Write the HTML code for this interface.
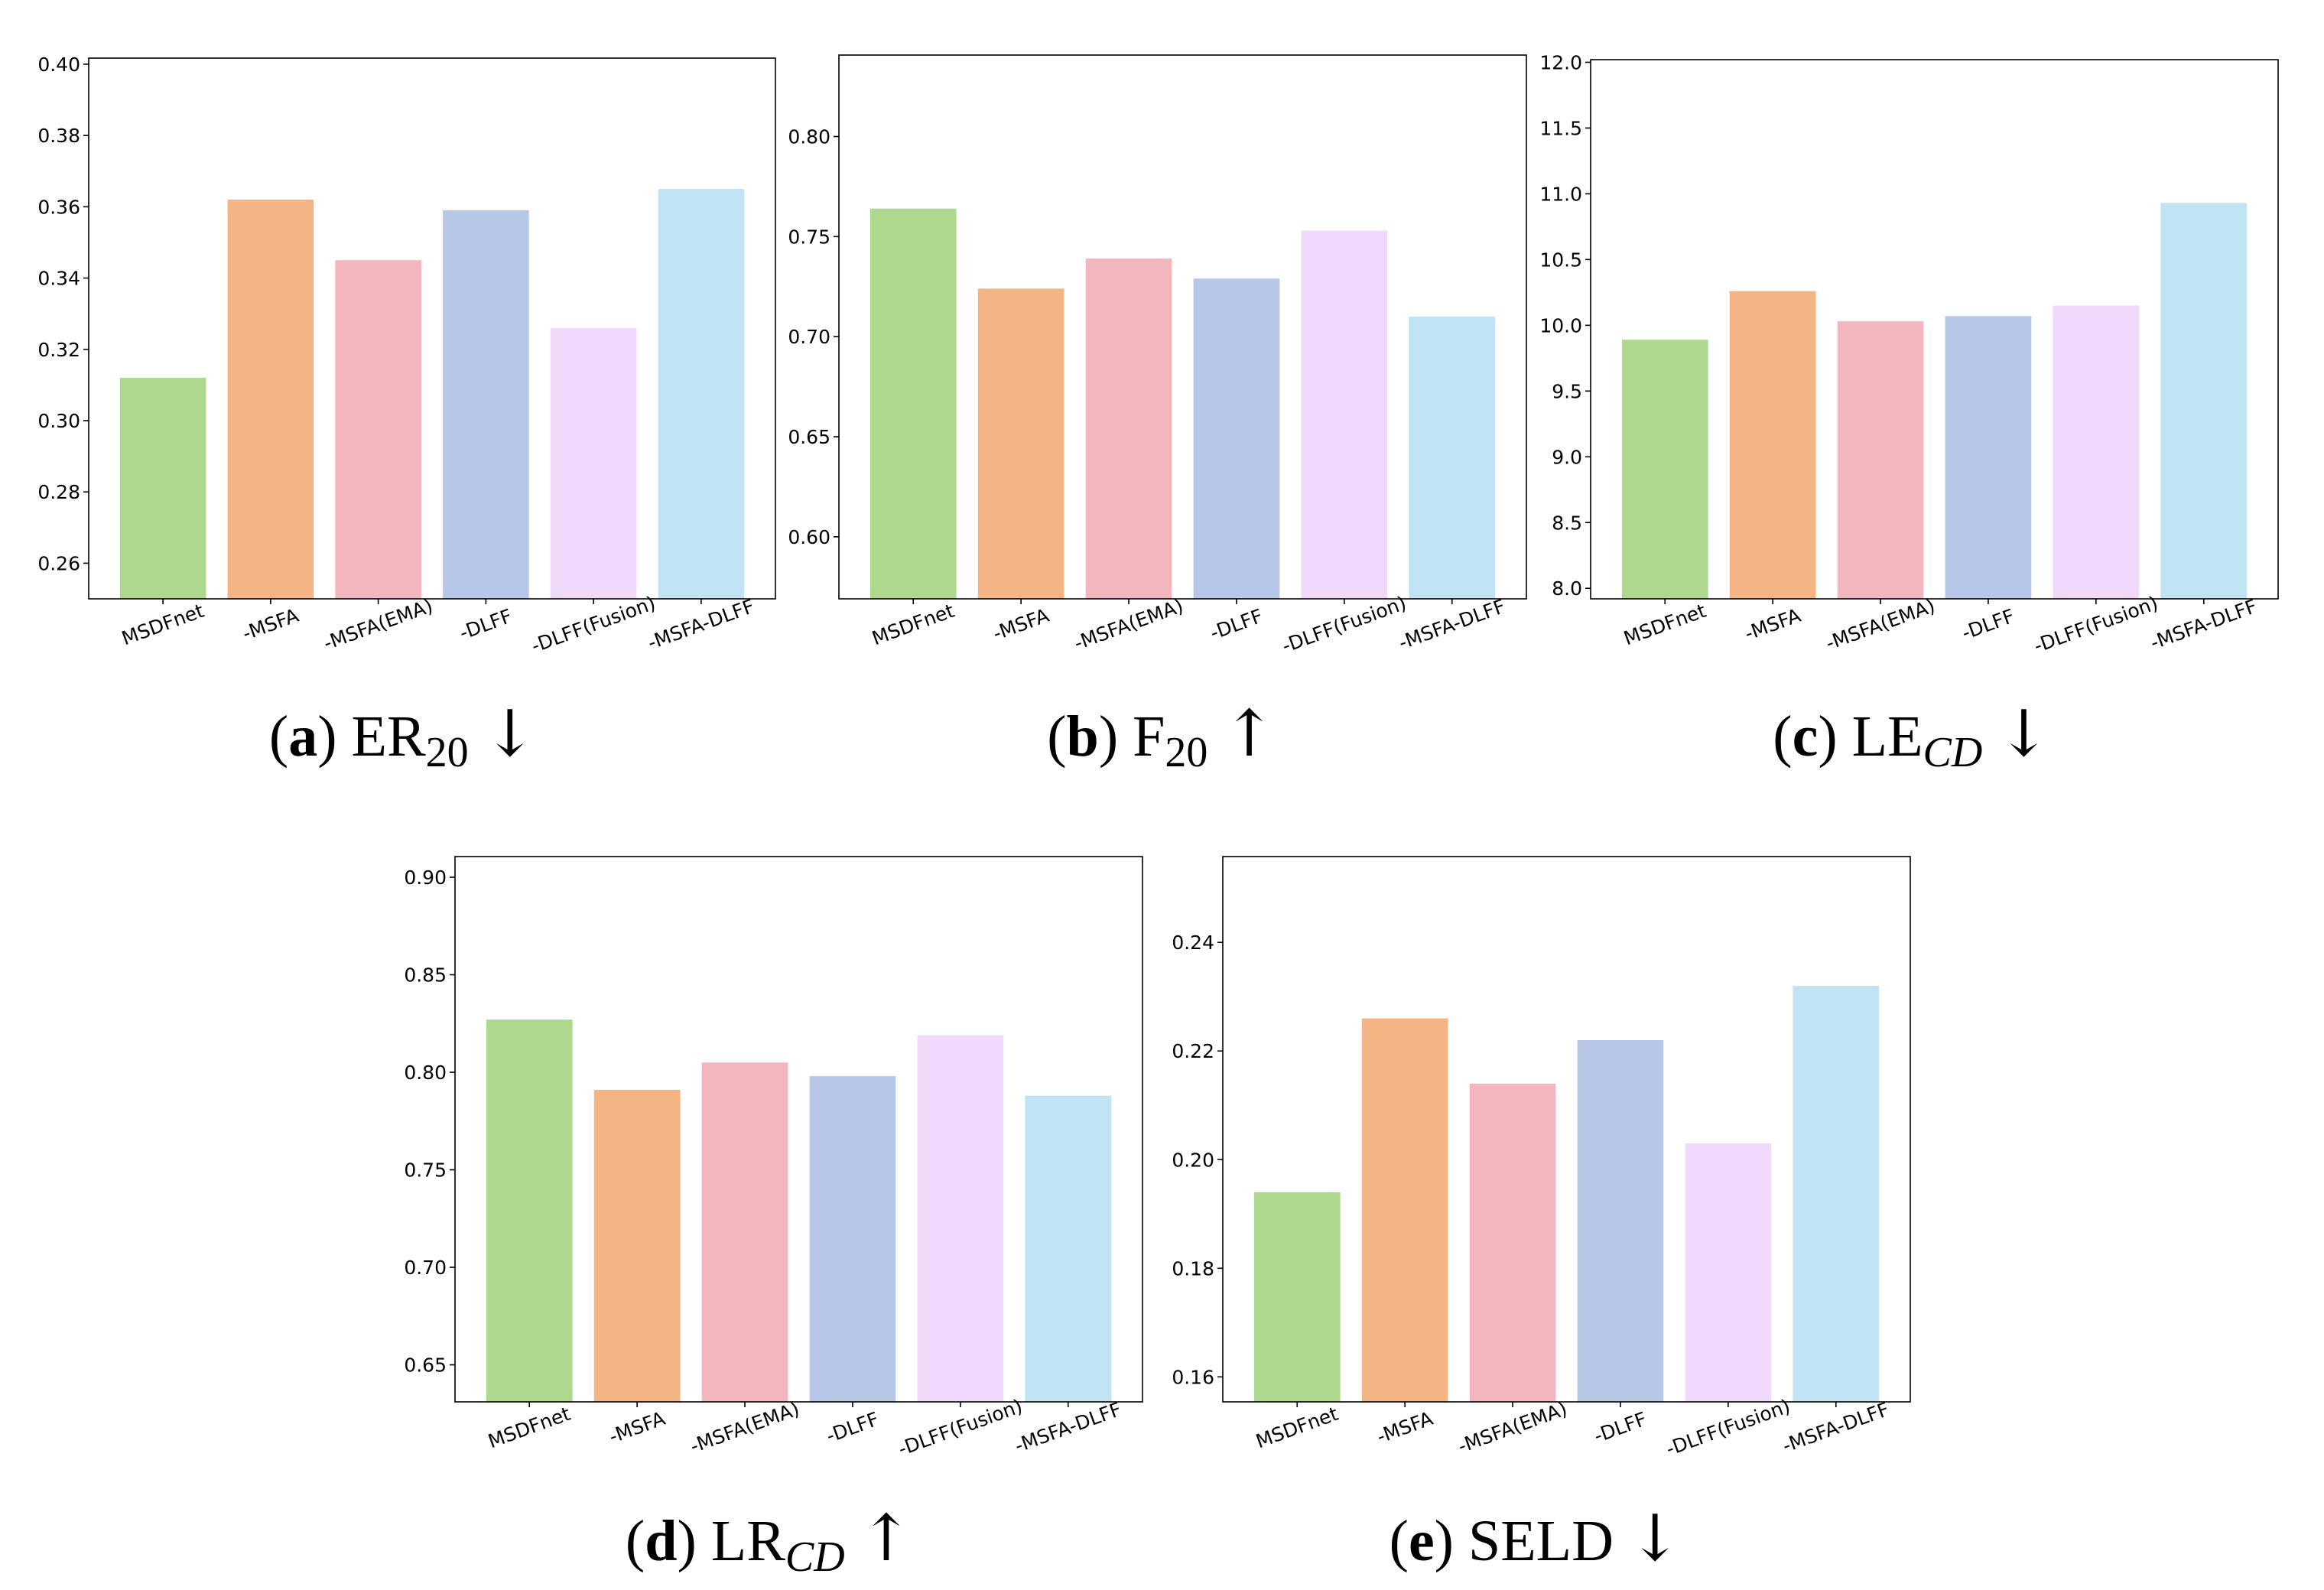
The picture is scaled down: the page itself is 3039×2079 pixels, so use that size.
<!DOCTYPE html>
<html><head><meta charset="utf-8"><style>
html,body{margin:0;padding:0;background:#fff}
svg{display:block}
.tk{font-family:"DejaVu Sans","Liberation Sans",sans-serif;font-size:25px;fill:#000}
.cap{font-family:"Liberation Serif","DejaVu Serif",serif;font-size:76px;fill:#000}
</style></head><body>
<svg id="fig" width="3039" height="2079" viewBox="0 0 3039 2079" xmlns="http://www.w3.org/2000/svg"></svg>
<script>
const categories = ["MSDFnet","-MSFA","-MSFA(EMA)","-DLFF","-DLFF(Fusion)","-MSFA-DLFF"];
const colors = ["#add88e","#f4b484","#f3b6bf","#b7c7e8","#f0d9fb","#c1e4f4"];
const valuesER = [0.312,0.362,0.345,0.359,0.326,0.365];
const valuesF = [0.764,0.724,0.739,0.729,0.753,0.710];
const valuesLE = [9.89,10.26,10.03,10.07,10.15,10.93];
const valuesLR = [0.827,0.791,0.805,0.798,0.819,0.788];
const valuesSELD = [0.194,0.226,0.214,0.222,0.203,0.232];
const ticksER = [0.26,0.28,0.30,0.32,0.34,0.36,0.38,0.40];
const ticksF = [0.60,0.65,0.70,0.75,0.80];
const ticksLE = [8.0,8.5,9.0,9.5,10.0,10.5,11.0,11.5,12.0];
const ticksLR = [0.65,0.70,0.75,0.80,0.85,0.90];
const ticksSELD = [0.16,0.18,0.20,0.22,0.24];

const NS="http://www.w3.org/2000/svg";
const svg=document.getElementById('fig');
function mk(tag,attrs,parent){const e=document.createElementNS(NS,tag);for(const k in attrs)e.setAttribute(k,attrs[k]);(parent||svg).appendChild(e);return e;}

const panels=[
 {id:'er',L:116,R:1014,T:76,B:783,y0:0.250,y1:0.4017,vals:valuesER,ticks:ticksER,dec:2,cx:527,cy:988,lab:'a',main:'ER',sub:'20',it:false,arrow:'↓'},
 {id:'f',L:1097,R:1996,T:72,B:783,y0:0.569,y1:0.8407,vals:valuesF,ticks:ticksF,dec:2,cx:1519,cy:988,lab:'b',main:'F',sub:'20',it:false,arrow:'↑'},
 {id:'le',L:2080,R:2979,T:78,B:783,y0:7.92,y1:12.02,vals:valuesLE,ticks:ticksLE,dec:1,cx:2500,cy:988,lab:'c',main:'LE',sub:'CD',it:true,arrow:'↓'},
 {id:'lr',L:595,R:1494,T:1120,B:1833,y0:0.631,y1:0.9106,vals:valuesLR,ticks:ticksLR,dec:2,cx:1006,cy:2040,lab:'d',main:'LR',sub:'CD',it:true,arrow:'↑'},
 {id:'seld',L:1599,R:2498,T:1120,B:1833,y0:0.1554,y1:0.2558,vals:valuesSELD,ticks:ticksSELD,dec:2,cx:2008,cy:2040,lab:'e',main:'SELD',sub:'',it:false,arrow:'↓'}
];

panels.forEach(p=>{
 const g=mk('g',{});
 
 
 const xs=v=>p.L+(v+0.69)/6.38*(p.R-p.L);
 const ys=v=>p.B-(v-p.y0)/(p.y1-p.y0)*(p.B-p.T);
 p.vals.forEach((v,i)=>{
  const r=mk('rect',{x:xs(i-0.4),y:ys(v),width:xs(0.4)-xs(-0.4),height:p.B-ys(v),fill:colors[i]},g);
  
  
 });
 const fr=mk('rect',{x:p.L,y:p.T,width:p.R-p.L,height:p.B-p.T,fill:'none',stroke:'#000','stroke-width':1.6},g);
 
 
 p.ticks.forEach(t=>{
  const y=ys(t);
  mk('line',{x1:p.L-7,x2:p.L,y1:y,y2:y,stroke:'#000','stroke-width':1.6},g);
  const tx=mk('text',{x:p.L-11,y:y+9,'text-anchor':'end','class':'tk'},g);
  tx.textContent=t.toFixed(p.dec);
  
  
 });
 categories.forEach((c,i)=>{
  const x=xs(i);
  mk('line',{x1:x,x2:x,y1:p.B,y2:p.B+7,stroke:'#000','stroke-width':1.6},g);
  const tx=mk('text',{x:x,y:p.B+42,'text-anchor':'middle','class':'tk',transform:'rotate(-20 '+x+' '+(p.B+34)+')'},g);
  tx.textContent=c;
  
  
 });
 const cap=mk('text',{x:p.cx,y:p.cy,'text-anchor':'middle','class':'cap'},g);
 
 
 let html='(<tspan font-weight="bold">'+p.lab+'</tspan>) '+p.main;
 if(p.sub) html+='<tspan font-size="56" dy="14"'+(p.it?' font-style="italic"':'')+'>'+p.sub+'</tspan><tspan dy="-14"> </tspan>';
 else html+=' ';
 html+='<tspan font-family="DejaVu Serif, serif" font-size="84" font-weight="200">'+p.arrow+'</tspan>';
 cap.innerHTML=html;
});
</script>
</body></html>
